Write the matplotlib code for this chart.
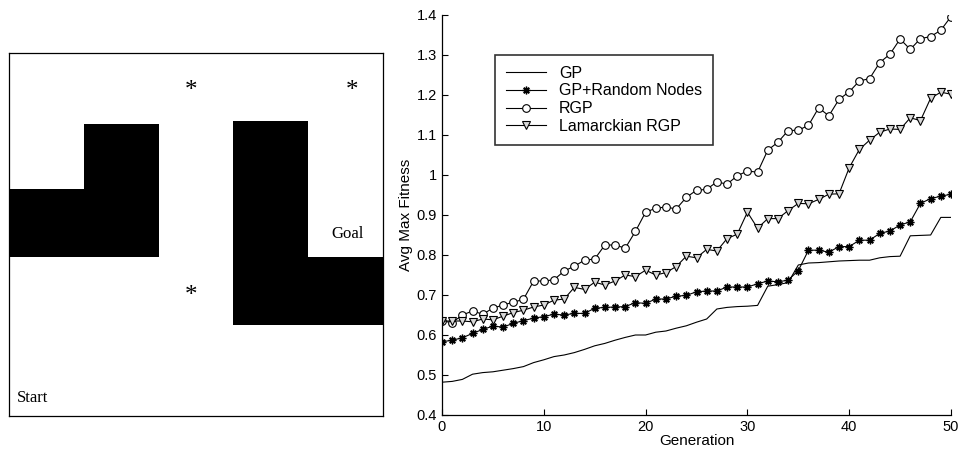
import numpy as np
import matplotlib
matplotlib.use('Agg')
import matplotlib.pyplot as plt
from matplotlib.patches import Rectangle

plt.rcParams['font.family'] = ['Liberation Sans', 'DejaVu Sans']

# ---- maze layout (columns across, rows down) ----
maze_w, maze_h = 5.0, 5.34
# walls: (x, y, width, height) in cell units
walls = [(0, 2, 1, 1),
         (1, 1.05, 1, 1.95),
         (3, 1, 1, 2),
         (3, 3, 2, 1)]
food = [(2.44, 0.5), (4.58, 0.5), (2.44, 3.51)]

# ---- fitness curves ----
generation = np.arange(51)
gp = [0.482, 0.484, 0.489, 0.502, 0.506, 0.508, 0.512, 0.516, 0.521, 0.531,
      0.538, 0.546, 0.550, 0.556, 0.564, 0.573, 0.579, 0.587, 0.594, 0.600,
      0.600, 0.607, 0.610, 0.617, 0.623, 0.632, 0.640, 0.665, 0.669, 0.671,
      0.672, 0.674, 0.722, 0.726, 0.731, 0.775, 0.780, 0.781, 0.783, 0.785,
      0.786, 0.787, 0.787, 0.793, 0.796, 0.797, 0.848, 0.849, 0.850, 0.894,
      0.894]
gp_random = [0.583, 0.587, 0.593, 0.604, 0.614, 0.622, 0.620, 0.629, 0.636, 0.642,
             0.646, 0.652, 0.650, 0.654, 0.654, 0.667, 0.669, 0.670, 0.671, 0.681,
             0.679, 0.690, 0.690, 0.697, 0.699, 0.708, 0.710, 0.710, 0.720, 0.720,
             0.720, 0.728, 0.735, 0.733, 0.737, 0.761, 0.812, 0.812, 0.807, 0.821,
             0.821, 0.837, 0.837, 0.854, 0.860, 0.875, 0.883, 0.929, 0.941, 0.947,
             0.952]
rgp = [0.635, 0.631, 0.650, 0.660, 0.652, 0.667, 0.675, 0.682, 0.689, 0.735,
       0.735, 0.738, 0.760, 0.772, 0.787, 0.790, 0.825, 0.825, 0.817, 0.859,
       0.907, 0.917, 0.920, 0.915, 0.944, 0.962, 0.964, 0.983, 0.977, 0.998,
       1.010, 1.007, 1.062, 1.082, 1.111, 1.112, 1.124, 1.168, 1.148, 1.189,
       1.208, 1.235, 1.241, 1.281, 1.302, 1.340, 1.314, 1.341, 1.346, 1.362,
       1.396]
lamarck = [0.635, 0.635, 0.635, 0.633, 0.640, 0.638, 0.647, 0.656, 0.662, 0.670,
           0.675, 0.687, 0.690, 0.719, 0.714, 0.732, 0.725, 0.735, 0.750, 0.746,
           0.762, 0.750, 0.756, 0.771, 0.797, 0.793, 0.814, 0.810, 0.841, 0.852,
           0.907, 0.867, 0.891, 0.891, 0.911, 0.929, 0.928, 0.939, 0.952, 0.953,
           1.018, 1.064, 1.087, 1.107, 1.115, 1.114, 1.143, 1.136, 1.192, 1.207,
           1.202]

fig = plt.figure(figsize=(9.62, 4.54), dpi=100)

# left: the maze
ax1 = fig.add_axes([9 / 962, 38 / 454, 374 / 962, 363 / 454])
for (x, y, w, h) in walls:
    ax1.add_patch(Rectangle((x, y), w, h, facecolor='black', edgecolor='none'))
for (x, y) in food:
    ax1.text(x, y + 0.15, '*', fontsize=18, family='Liberation Serif',
             ha='center', va='baseline')
ax1.text(4.525, 2.72, 'Goal', fontsize=12, family='Liberation Serif',
         ha='center', va='baseline')
ax1.text(0.11, 5.13, 'Start', fontsize=12, family='Liberation Serif',
         ha='left', va='baseline')
ax1.set_xlim(0, maze_w)
ax1.set_ylim(maze_h, 0)
ax1.set_xticks([])
ax1.set_yticks([])
for s in ax1.spines.values():
    s.set_linewidth(0.9)

# right: average max fitness per generation
ax2 = fig.add_axes([442 / 962, 39 / 454, 509 / 962, 400 / 454])
lw = 0.8
ax2.plot(generation, gp, '-', color='black', lw=lw, label='GP')
ax2.plot(generation, gp_random, '-', color='black', lw=lw, marker=(8, 2, 0),
         ms=5.5, mew=1.0, label='GP+Random Nodes')
ax2.plot(generation, rgp, '-', color='black', lw=lw, marker='o', ms=5.5,
         mfc='white', mew=0.8, label='RGP')
ax2.plot(generation, lamarck, '-', color='black', lw=lw, marker='v', ms=6,
         mfc='#d8d8d8', mew=0.8, label='Lamarckian RGP')

ax2.set_xlim(0, 50)
ax2.set_ylim(0.4, 1.4)
ax2.set_xticks(np.arange(0, 51, 10))
ax2.set_yticks(np.arange(0.4, 1.41, 0.1))
ax2.set_yticklabels(['%g' % round(v, 1) for v in np.arange(0.4, 1.41, 0.1)])
ax2.tick_params(direction='in', length=4, width=0.8, labelsize=10.5, pad=3.5)
ax2.spines['top'].set_visible(False)
ax2.spines['right'].set_visible(False)
for s in ('left', 'bottom'):
    ax2.spines[s].set_linewidth(0.9)
ax2.set_xlabel('Generation', fontsize=11, labelpad=0)
ax2.set_ylabel('Avg Max Fitness', fontsize=11, labelpad=3)

leg = ax2.legend(loc='upper left', bbox_to_anchor=(0.104, 0.9), fontsize=11.5,
                 frameon=True, fancybox=False, edgecolor='black',
                 handlelength=2.55, handletextpad=0.8, labelspacing=0.175,
                 borderpad=0.67, borderaxespad=0)
leg.get_frame().set_linewidth(1.2)

fig.savefig('out.png', dpi=100)
